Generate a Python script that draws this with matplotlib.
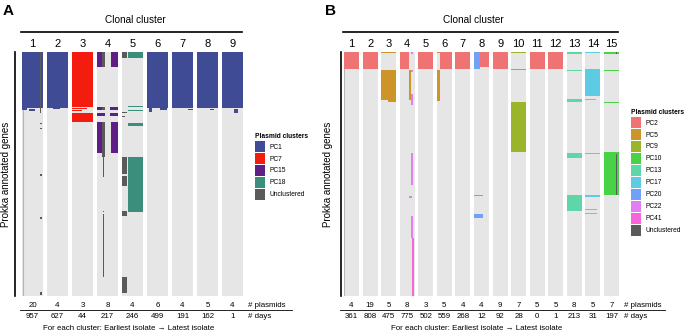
import numpy as np
import matplotlib
matplotlib.use("Agg")
import matplotlib.pyplot as plt
from matplotlib.patches import Patch

plt.rcParams['font.family'] = ['Liberation Sans', 'DejaVu Sans']

# ---------------- panel A data ----------------
a_clusters = [1, 2, 3, 4, 5, 6, 7, 8, 9]
a_plasmids = [20, 4, 3, 8, 4, 6, 4, 5, 4]
a_days = [957, 627, 44, 217, 246, 499, 191, 162, 1]
a_pcs = ["PC1", "PC7", "PC15", "PC18", "Unclustered"]
a_colors = ["#3F4B95", "#F41C0F", "#5F1E85", "#3A8E7B", "#5A5A5A"]

# blocks: cluster, left/right (fraction of column), top/bottom (gene rank, 0-1000), plasmid cluster
a_blk_cl = [1, 1, 1, 1, 1, 1, 1, 1, 1,
            2, 2,
            3, 3, 3, 3,
            4, 4, 4, 4, 4, 4, 4, 4, 4, 4, 4, 4, 4, 4,
            5, 5, 5, 5, 5, 5, 5, 5, 5, 5, 5, 5,
            6, 6, 6, 7, 7, 8, 8, 9, 9]
a_blk_x0 = [0, 0.88, 0, 0.35, 0.87, 0.87, 0.85, 0.85, 0.85,
            0, 0.3,
            0, 0, 0, 0,
            0, 0.24, 0.67, 0, 0.62, 0.24, 0, 0.62, 0, 0.24, 0.67, 0.27, 0.27, 0.27,
            0, 0.29, 0.29, 0.29, 0, 0, 0.29, 0.29, 0, 0, 0, 0,
            0, 0.1, 0.6, 0, 0.75, 0, 0.6, 0, 0.55]
a_blk_x1 = [1, 0.92, 0.25, 0.6, 0.93, 0.93, 0.93, 0.93, 0.93,
            1, 0.6,
            1, 0.7, 0.5, 1,
            0.24, 0.38, 1, 0.38, 1, 0.38, 0.38, 1, 0.24, 0.38, 1, 0.33, 0.33, 0.33,
            0.24, 1, 1, 1, 0.24, 0.15, 1, 1, 0.24, 0.24, 0.24, 0.24,
            1, 0.25, 0.95, 1, 1, 1, 0.8, 1, 0.75]
a_blk_y0 = [0, 0, 230, 232, 290, 310, 502, 678, 985,
            0, 230,
            0, 231, 239, 250,
            0, 0, 0, 225, 225, 225, 250, 250, 287, 287, 287, 430, 650, 664,
            0, 0, 221, 236, 246, 263, 291, 430, 430, 508, 652, 922,
            0, 230, 230, 0, 232, 0, 232, 0, 232]
a_blk_y1 = [230, 250, 238, 240, 296, 315, 507, 686, 995,
            230, 234,
            226, 235, 243, 287,
            62, 62, 62, 238, 238, 238, 262, 262, 414, 430, 414, 512, 656, 922,
            25, 25, 225, 240, 252, 267, 303, 656, 500, 549, 672, 988,
            230, 246, 236, 230, 236, 230, 236, 230, 250]
a_blk_pc = ["PC1", "Unclustered", "PC1", "PC1", "Unclustered", "Unclustered", "Unclustered", "Unclustered", "Unclustered",
            "PC1", "PC1",
            "PC7", "PC7", "PC7", "PC7",
            "PC15", "Unclustered", "PC15", "PC15", "PC15", "Unclustered", "PC15", "PC15", "PC15", "Unclustered", "PC15",
            "Unclustered", "Unclustered", "Unclustered",
            "Unclustered", "PC18", "PC18", "PC18", "Unclustered", "Unclustered", "PC18", "PC18", "Unclustered",
            "Unclustered", "Unclustered", "Unclustered",
            "PC1", "PC1", "PC1", "PC1", "PC1", "PC1", "PC1", "PC1", "PC1"]

# ---------------- panel B data ----------------
b_clusters = list(range(1, 16))
b_plasmids = [4, 19, 5, 8, 3, 5, 4, 4, 9, 7, 5, 5, 8, 5, 7]
b_days = [361, 808, 475, 775, 502, 559, 268, 12, 92, 28, 0, 1, 213, 31, 197]
b_pcs = ["PC2", "PC5", "PC9", "PC10", "PC13", "PC17", "PC20", "PC22", "PC41", "Unclustered"]
b_colors = ["#F07373", "#CD9428", "#9AB52A", "#48D246", "#5ED6A8", "#5CCBE3",
            "#70A0F8", "#E07EF2", "#F865DA", "#5A5A5A"]

b_blk_cl = [1, 2,
            3, 3, 3,
            4, 4, 4, 4, 4, 4, 4, 4, 4,
            5, 6, 6, 6, 7,
            8, 8, 8, 8,
            9, 10, 10, 10, 11, 12,
            13, 13, 13, 13, 13,
            14, 14, 14, 14, 14, 14, 14,
            15, 15, 15, 15, 15, 15]
b_blk_x0 = [0, 0,
            0, 0, 0.45,
            0, 0.6, 0.73, 0.73, 0.73, 0.73, 0.6, 0.73, 0.8,
            0, 0, 0, 0.2, 0,
            0, 0.4, 0, 0,
            0, 0, 0, 0, 0, 0,
            0, 0, 0, 0, 0,
            0, 0, 0, 0, 0, 0, 0,
            0, 0, 0, 0, 0.8, 0.8]
b_blk_x1 = [1, 1,
            1, 1, 1,
            0.6, 0.73, 0.87, 0.87, 0.87, 0.87, 0.8, 0.87, 0.93,
            1, 0.2, 0.2, 1, 1,
            0.4, 1, 0.6, 0.6,
            1, 1, 1, 1, 1, 1,
            1, 1, 1, 1, 1,
            1, 1, 0.7, 1, 1, 0.8, 0.8,
            1, 1, 1, 1, 0.9, 0.9]
b_blk_y0 = [0, 0,
            0, 74, 197,
            0, 74, 0, 74, 172, 414, 590, 672, 762,
            0, 0, 74, 0, 0,
            0, 0, 586, 664,
            0, 0, 70, 205, 0, 0,
            0, 74, 193, 414, 586,
            0, 70, 193, 414, 586, 644, 660,
            0, 74, 205, 410, 0, 418]
b_blk_y1 = [70, 70,
            6, 197, 204,
            70, 197, 8, 82, 217, 545, 600, 762, 1000,
            70, 6, 201, 70, 70,
            70, 62, 590, 680,
            70, 6, 74, 410, 70, 70,
            8, 78, 205, 434, 652,
            6, 180, 197, 418, 594, 648, 664,
            8, 78, 211, 586, 8, 586]
b_blk_pc = ["PC2", "PC2",
            "PC5", "PC5", "PC5",
            "PC2", "PC5", "PC22", "PC22", "PC22", "PC22", "PC22", "PC22", "PC41",
            "PC2", "PC5", "PC5", "PC2", "PC2",
            "PC20", "PC2", "PC20", "PC20",
            "PC2", "PC9", "PC9", "PC9", "PC2", "PC2",
            "PC13", "PC13", "PC13", "PC13", "PC13",
            "PC17", "PC17", "PC17", "PC17", "PC17", "PC17", "PC17",
            "PC10", "PC10", "PC10", "PC10", "Unclustered", "Unclustered"]

BG = "#E6E6E6"


def draw_panel(ax, clusters, plasmids, days, pcs, colors, cl, x0, x1, y0, y1, pc,
               colw, line_x, ylab_x, title_x, foot_x, lab_x, rule_x):
    cmap = dict(zip(pcs, colors))
    ax.bar(clusters, 1000, width=colw, bottom=0, color=BG, linewidth=0, zorder=1)
    cl = np.array(cl)
    x0 = np.array(x0)
    x1 = np.array(x1)
    y0 = np.array(y0)
    y1 = np.array(y1)
    left = cl - colw / 2 + x0 * colw
    ax.bar(left, y1 - y0, width=(x1 - x0) * colw, bottom=y0, align="edge",
           color=[cmap[p] for p in pc], linewidth=0, zorder=3)
    ax.set_xlim(clusters[0] - colw / 2, clusters[-1] + colw / 2)
    ax.set_ylim(1000, 0)
    for s in ax.spines.values():
        s.set_visible(False)
    ax.set_yticks([])
    ax.xaxis.tick_top()
    ax.set_xticks(clusters)
    ax.set_xticklabels([str(c) for c in clusters], fontsize=8)
    ax.tick_params(axis="x", length=0, pad=2.5)

    # thin grey line on the left of the first column (under the coloured blocks)
    ax.axvline(clusters[0] - colw / 2 + 0.02, color="#b5b5b5", lw=0.8, zorder=2)

    # left black bar and y label
    ax.plot([line_x, line_x], [0, 1], color="black", lw=1.2,
            transform=ax.transAxes, clip_on=False)
    ax.text(ylab_x, 0.5, "Prokka annotated genes", rotation=90, ha="center", va="center",
            fontsize=7, transform=ax.transAxes)

    # top header
    tr = ax.get_xaxis_transform()
    ax.plot([clusters[0] - colw / 2 - 0.05, clusters[-1] + colw / 2 - 0.05], [1.082, 1.082],
            color="black", lw=1.2, transform=tr, clip_on=False)
    ax.text(title_x, 1.131, "Clonal cluster", ha="center", va="center", fontsize=7.2, transform=tr)

    # footer rows
    for c, p, d in zip(clusters, plasmids, days):
        ax.text(c, -0.037, str(p), ha="center", va="center", fontsize=5.7, transform=tr)
        ax.text(c, -0.082, str(d), ha="center", va="center", fontsize=5.7, transform=tr)
    ax.text(lab_x, -0.037, "# plasmids", ha="left", va="center", fontsize=5.7, transform=tr)
    ax.text(lab_x, -0.082, "# days", ha="left", va="center", fontsize=5.7, transform=tr)
    ax.plot(rule_x, [-0.059, -0.059], color="black", lw=0.6, transform=tr, clip_on=False)
    ax.text(foot_x, -0.135, "For each cluster: Earliest isolate \u2192 Latest isolate",
            ha="center", va="center", fontsize=5.7, transform=tr)


fig = plt.figure(figsize=(6.85, 3.33), dpi=100)
W, H = 685, 333

axA = fig.add_axes([22 / W, 37 / H, 221 / W, 244 / H])
draw_panel(axA, a_clusters, a_plasmids, a_days, a_pcs, a_colors,
           a_blk_cl, a_blk_x0, a_blk_x1, a_blk_y0, a_blk_y1, a_blk_pc,
           colw=0.84, line_x=-0.030, ylab_x=-0.072, title_x=5.1, foot_x=4.86,
           lab_x=9.62, rule_x=[0.50, 11.38])

axB = fig.add_axes([344 / W, 37 / H, 275 / W, 244 / H])
draw_panel(axB, b_clusters, b_plasmids, b_days, b_pcs, b_colors,
           b_blk_cl, b_blk_x0, b_blk_x1, b_blk_y0, b_blk_y1, b_blk_pc,
           colw=0.81, line_x=-0.010, ylab_x=-0.058, title_x=7.55, foot_x=7.76,
           lab_x=15.68, rule_x=[0.38, 17.88])

fig.text(3 / W, 1 - 4 / H, "A", fontsize=11, fontweight="bold", ha="left", va="top")
fig.text(325 / W, 1 - 4 / H, "B", fontsize=11, fontweight="bold", ha="left", va="top")


def legend(x, y, pcs, colors):
    handles = [Patch(facecolor=c, edgecolor="none", label=p) for p, c in zip(pcs, colors)]
    leg = fig.legend(handles=handles, loc="upper left", bbox_to_anchor=(x / W, 1 - y / H),
                     frameon=False, fontsize=4.8, title="Plasmid clusters",
                     title_fontproperties={"weight": "bold", "size": 4.8},
                     handlelength=1.5, handleheight=2.15, labelspacing=0.15,
                     handletextpad=0.7, borderpad=0, borderaxespad=0, alignment="left")
    return leg


legend(255, 133, a_pcs, a_colors)
legend(631, 109, b_pcs, b_colors)

fig.savefig("out.png", dpi=100)
